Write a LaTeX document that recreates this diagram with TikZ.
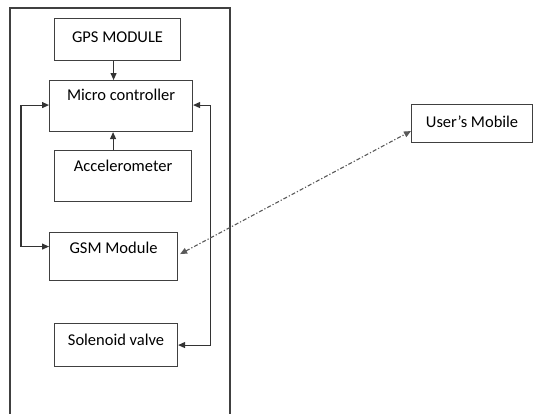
\documentclass[tikz,border=0pt]{standalone}
\usepackage{fontspec}
\setmainfont{Carlito}
\usetikzlibrary{arrows.meta}
\tikzset{
	block/.style={draw=black!75, line width=1.1pt, anchor=north west, inner sep=0pt, font=\fontsize{16.5}{19}\selectfont},
	link/.style={draw=black!80, line width=1.1pt, -{Triangle[length=7pt,width=6pt]}},
	twolink/.style={link, {Triangle[length=7pt,width=6pt]}-{Triangle[length=7pt,width=6pt]}},
	radio/.style={twolink, draw=black!65, dash pattern=on 4pt off 2pt on 1.2pt off 2pt}
}
\begin{document}
\begin{tikzpicture}[x=1pt, y=-1pt]
			\useasboundingbox (0,0) rectangle (534,413);
			% the unit
			\draw[black!75, line width=1.1pt] (10,420) -- (10,8) -- (230,8) -- (230,420);
			\node[block, minimum width=126pt, text height=23.5pt, text depth=18.5pt] (gps) at (54,18) {GPS MODULE};
			\node[block, minimum width=143pt, text height=20pt, text depth=31pt] (mcu) at (49,80) {Micro controller};
			\node[block, minimum width=137pt, text height=21pt, text depth=30pt] (acc) at (54,150) {Accelerometer};
			\node[block, minimum width=128pt, text height=21pt, text depth=27pt] (gsm) at (49,232) {GSM Module};
			\node[block, minimum width=123pt, text height=21.5pt, text depth=21.5pt] (valve) at (54,323) {Solenoid valve};
			\node[block, minimum width=121pt, text height=22.5pt, text depth=15.5pt] (mobile) at (411,104) {User’s Mobile};
			\draw[link] ([xshift=-4pt]gps.south) -- ([xshift=-4pt]gps.south |- mcu.north);
			\draw[link] ([xshift=-10pt]acc.north) -- ([xshift=-10pt]acc.north |- mcu.south);
			\draw[twolink] ([yshift=10pt]gsm.west) -- ++(-28pt,0pt) |- ([yshift=1pt]mcu.west);
			\draw[twolink] ([yshift=1pt]mcu.east) -- ++(17pt,0pt) |- (valve.east);
			% link to the phone
			\draw[radio] ([xshift=2pt,yshift=2.5pt]gsm.east) -- ([yshift=-7.5pt]mobile.west);
\end{tikzpicture}
\end{document}
